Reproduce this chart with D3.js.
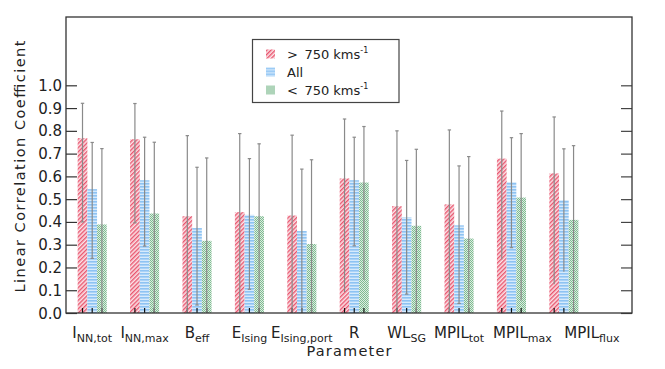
<!DOCTYPE html>
<html>
<head>
<meta charset="utf-8">
<script src="https://cdn.jsdelivr.net/npm/d3@7"></script>
<style>
  body { margin: 0; background: #fff; }
  svg { display: block; font-family: "DejaVu Sans", sans-serif; }
  text { fill: #222; }
</style>
</head>
<body>
<svg id="chart" width="665" height="369"></svg>
<script>
// parameter names: main part + subscript
const paramMain = ["I", "I", "B", "E", "E", "R", "WL", "MPIL", "MPIL", "MPIL"];
const paramSub = ["NN,tot", "NN,max", "eff", "Ising", "Ising,port", "", "SG", "tot", "max", "flux"];

// > 750 km/s
const fastVal = [0.768, 0.763, 0.425, 0.443, 0.428, 0.591, 0.469, 0.477, 0.678, 0.613];
const fastHi  = [0.921, 0.920, 0.779, 0.788, 0.781, 0.852, 0.800, 0.804, 0.887, 0.861];
const fastLo  = [0.400, 0.396, -0.05, -0.04, -0.05, 0.092, -0.03, -0.03, 0.235, 0.126];
// all events
const allVal = [0.544, 0.583, 0.373, 0.431, 0.360, 0.583, 0.420, 0.385, 0.575, 0.496];
const allHi  = [0.749, 0.772, 0.640, 0.678, 0.632, 0.772, 0.670, 0.646, 0.770, 0.721];
const allLo  = [0.240, 0.294, 0.035, 0.104, -0.02, 0.295, 0.083, 0.042, 0.287, 0.181];
// < 750 km/s
const slowVal = [0.389, 0.437, 0.317, 0.425, 0.303, 0.573, 0.383, 0.327, 0.507, 0.409];
const slowHi  = [0.722, 0.750, 0.681, 0.743, 0.673, 0.819, 0.719, 0.687, 0.788, 0.735];
const slowLo  = [-0.03, -0.01, -0.08, -0.02, -0.10, 0.145, -0.04, -0.06, 0.055, -0.01];

const yTicks = [0, 0.1, 0.2, 0.3, 0.4, 0.5, 0.6, 0.7, 0.8, 0.9, 1.0];

const series = [
  {key: "fast", name: "> 750 kms", sup: "-1", val: fastVal, hi: fastHi, lo: fastLo, fill: "url(#patFast)"},
  {key: "all", name: "All", sup: "", val: allVal, hi: allHi, lo: allLo, fill: "url(#patAll)"},
  {key: "slow", name: "< 750 kms", sup: "-1", val: slowVal, hi: slowHi, lo: slowLo, fill: "url(#patSlow)"}
];

const svg = d3.select("#chart");
const frame = {left: 66, right: 632, top: 17, bottom: 313};

const x = d3.scaleLinear().domain([-0.5, 10.3]).range([frame.left, frame.right]);
const y = d3.scaleLinear().domain([0, 1.3]).range([frame.bottom, frame.top]);
const barW = x(0.185) - x(0);

// fill patterns
const defs = svg.append("defs");
const pf = defs.append("pattern").attr("id", "patFast")
  .attr("patternUnits", "userSpaceOnUse").attr("width", 3).attr("height", 3)
  .attr("patternTransform", "rotate(45)");
pf.append("rect").attr("width", 3).attr("height", 3).attr("fill", "#fbe3e7");
pf.append("rect").attr("width", 1.4).attr("height", 3).attr("fill", "#e9566f");

const pa = defs.append("pattern").attr("id", "patAll")
  .attr("patternUnits", "userSpaceOnUse").attr("width", 3).attr("height", 3);
pa.append("rect").attr("width", 3).attr("height", 3).attr("fill", "#d6eafc");
pa.append("rect").attr("width", 3).attr("height", 1.6).attr("fill", "#8ec3f3");

const ps = defs.append("pattern").attr("id", "patSlow")
  .attr("patternUnits", "userSpaceOnUse").attr("width", 2).attr("height", 2);
ps.append("rect").attr("width", 2).attr("height", 2).attr("fill", "#dcede1");
ps.append("rect").attr("width", 1).attr("height", 1).attr("fill", "#7fbb91");
ps.append("rect").attr("x", 1).attr("y", 1).attr("width", 1).attr("height", 1).attr("fill", "#7fbb91");

defs.append("clipPath").attr("id", "plotClip").append("rect")
  .attr("x", frame.left).attr("y", frame.top)
  .attr("width", frame.right - frame.left).attr("height", frame.bottom - frame.top);

const barX = (i, s) => x(i) + (s - 1) * barW;

// bars
const plot = svg.append("g").attr("clip-path", "url(#plotClip)");
series.forEach((s, si) => {
  plot.selectAll(null).data(s.val).join("rect")
    .attr("x", (d, i) => barX(i, si) - barW / 2)
    .attr("y", d => y(d))
    .attr("width", barW)
    .attr("height", d => y(0) - y(d))
    .attr("fill", s.fill);
});

// bottom ticks at each bar
series.forEach((s, si) => {
  plot.selectAll(null).data(s.val).join("line")
    .attr("x1", (d, i) => barX(i, si)).attr("x2", (d, i) => barX(i, si))
    .attr("y1", y(0)).attr("y2", y(0) - 5)
    .attr("stroke", "#111").attr("stroke-width", 1.2);
});

// error bars
series.forEach((s, si) => {
  const g = plot.selectAll(null).data(s.val).join("g")
    .attr("stroke", "#8a8a8a").attr("stroke-width", 1.2);
  g.append("line")
    .attr("x1", (d, i) => barX(i, si)).attr("x2", (d, i) => barX(i, si))
    .attr("y1", (d, i) => y(s.hi[i])).attr("y2", (d, i) => y(Math.max(s.lo[i], 0)) + (s.lo[i] < 0 ? 2 : 0));
  g.append("line")
    .attr("x1", (d, i) => barX(i, si) - 1.7).attr("x2", (d, i) => barX(i, si) + 1.7)
    .attr("y1", (d, i) => y(s.hi[i])).attr("y2", (d, i) => y(s.hi[i]));
  g.filter((d, i) => s.lo[i] >= 0).append("line")
    .attr("x1", (d, i) => barX(i, si) - 1.7).attr("x2", (d, i) => barX(i, si) + 1.7)
    .attr("y1", (d, i) => y(s.lo[i])).attr("y2", (d, i) => y(s.lo[i]));
});

// y axes (ticks inward on both sides)
const leftAxis = svg.append("g").attr("transform", `translate(${frame.left},0)`)
  .call(d3.axisRight(y).tickValues(yTicks).tickSize(11).tickFormat(""));
leftAxis.select(".domain").remove();
leftAxis.selectAll("line").attr("stroke", "#333").attr("stroke-width", 1.2);

const rightAxis = svg.append("g").attr("transform", `translate(${frame.right},0)`)
  .call(d3.axisLeft(y).tickValues(yTicks).tickSize(11).tickFormat(""));
rightAxis.select(".domain").remove();
rightAxis.selectAll("line").attr("stroke", "#444").attr("stroke-width", 1.2);

svg.append("g").selectAll("text").data(yTicks).join("text")
  .attr("x", 62).attr("y", d => y(d) + 5.5)
  .attr("text-anchor", "end").attr("font-size", 15)
  .text(d => d.toFixed(1));

// frame
svg.append("rect")
  .attr("x", frame.left).attr("y", frame.top)
  .attr("width", frame.right - frame.left).attr("height", frame.bottom - frame.top)
  .attr("fill", "none").attr("stroke", "#333").attr("stroke-width", 1.3);

// category labels
const labelShift = [0, 0, 0, 0, 0, 0, 0, 0, 11, 28];
const lab = svg.append("g").selectAll("text").data(paramMain).join("text")
  .attr("x", (d, i) => x(i) + labelShift[i]).attr("y", 338)
  .attr("text-anchor", "middle").attr("font-size", 15);
lab.append("tspan").text(d => d);
lab.append("tspan").attr("dy", 4).attr("font-size", 11).text((d, i) => paramSub[i]);

svg.append("text").attr("x", 349).attr("y", 356)
  .attr("text-anchor", "middle").attr("font-size", 14.5)
  .attr("textLength", 85).attr("lengthAdjust", "spacing")
  .text("Parameter");

svg.append("text")
  .attr("transform", "translate(25,166.5) rotate(-90)")
  .attr("text-anchor", "middle").attr("font-size", 14.5)
  .attr("textLength", 252).attr("lengthAdjust", "spacing")
  .text("Linear Correlation Coefficient");

// legend
const legend = svg.append("g");
legend.append("rect")
  .attr("x", 252.5).attr("y", 39.5).attr("width", 146.5).attr("height", 63)
  .attr("fill", "#fff").attr("stroke", "#444").attr("stroke-width", 1.2);
const row = legend.selectAll("g.row").data(series).join("g")
  .attr("class", "row")
  .attr("transform", (d, i) => `translate(266,${58.5 + i * 18})`);
row.append("rect").attr("x", 0).attr("y", -9).attr("width", 9).attr("height", 9)
  .attr("fill", d => d.fill);
const lt = row.append("text").attr("x", 21).attr("y", 0).attr("font-size", 13);
lt.append("tspan").text(d => d.name.replace(" ", "\u2002"));
lt.append("tspan").attr("dy", -6).attr("font-size", 8).text(d => d.sup);
</script>
</body>
</html>
